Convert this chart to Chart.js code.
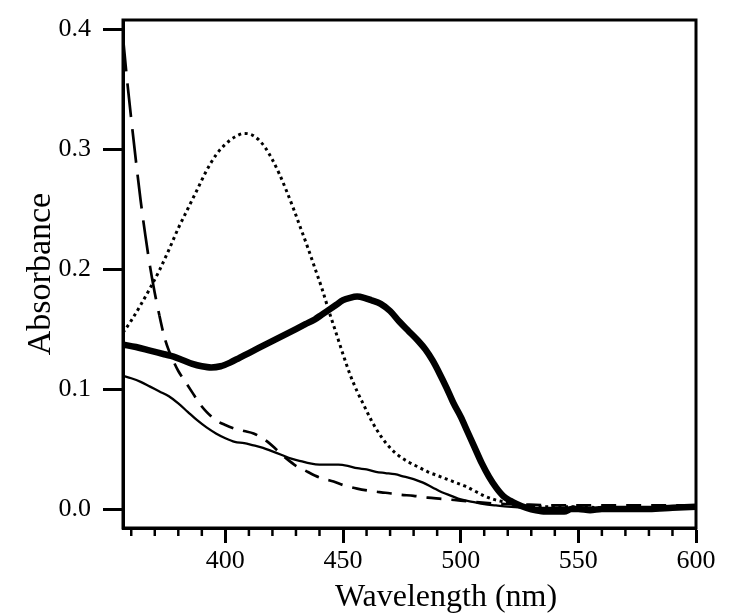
<!DOCTYPE html>
<html><head><meta charset="utf-8">
<script src="https://cdn.jsdelivr.net/npm/chart.js@4.4.1/dist/chart.umd.min.js"></script>
<style>html,body{margin:0;padding:0;background:#fff}#wrap{width:750px;height:616px}</style>
</head><body><div id="wrap"><canvas id="c" width="750" height="616"></canvas></div>
<script>
// ---- data ----
const thickX = [356.5,362,368,374,378,382,386,390,394,398,402,406,410,414,418,422,426,430,434,438,441,444,447,450,453,456,459,462,466,470,474,478,482,485,488,491,494,497,500,503,506,509,512,515,518,521,524,528,532,536,540,544,547,550,555,560,570,580,590,600];
const thickY = [0.137,0.135,0.132,0.129,0.127,0.124,0.121,0.119,0.118,0.119,0.122,0.126,0.130,0.134,0.138,0.142,0.146,0.150,0.154,0.158,0.162,0.166,0.170,0.174,0.176,0.177,0.176,0.174,0.171,0.165,0.156,0.148,0.140,0.133,0.124,0.113,0.101,0.088,0.077,0.064,0.051,0.038,0.027,0.018,0.011,0.007,0.004,0.001,-0.001,-0.002,-0.002,-0.002,0.000,0.000,-0.001,0.000,0.000,0.000,0.001,0.002];

const dotX = [356.5,360,364,368,372,376,380,384,388,392,396,400,404,408,411,414,417,420,423,426,429,432,435,438,441,444,447,450,453,456,459,462,466,470,474,478,482,486,490,494,498,502,506,510,514,518,522,526,530,540,550,560,580,600];
const dotY = [0.147,0.157,0.170,0.184,0.199,0.216,0.234,0.250,0.266,0.282,0.295,0.304,0.310,0.313,0.312,0.308,0.301,0.291,0.279,0.265,0.250,0.234,0.218,0.201,0.184,0.165,0.147,0.129,0.112,0.098,0.086,0.074,0.061,0.051,0.044,0.039,0.035,0.031,0.028,0.025,0.022,0.019,0.015,0.011,0.008,0.006,0.004,0.003,0.002,0.002,0.002,0.001,0.001,0.001];

const thinX = [356.5,360,364,368,372,376,380,384,388,392,396,400,404,408,412,416,420,424,428,432,436,440,444,448,452,456,460,464,468,472,476,480,484,488,492,496,500,505,510,515,520,530,540,560,580,600];
const thinY = [0.111,0.109,0.106,0.102,0.098,0.094,0.088,0.081,0.074,0.068,0.063,0.059,0.056,0.055,0.053,0.051,0.048,0.045,0.042,0.040,0.038,0.037,0.037,0.037,0.036,0.034,0.033,0.031,0.030,0.029,0.027,0.025,0.022,0.018,0.014,0.011,0.008,0.006,0.004,0.003,0.002,0.001,0.001,0.001,0.001,0.001];

const dashX = [356.5,358,360,362,364,366,368,370,372,374,376,378,380,383,386,389,392,396,400,404,408,412,415,418,422,426,430,434,438,442,446,450,456,462,468,474,480,486,492,500,508,516,524,540,560,580,600];
const dashY = [0.393,0.362,0.325,0.290,0.257,0.228,0.202,0.180,0.161,0.144,0.132,0.123,0.115,0.106,0.097,0.088,0.081,0.074,0.070,0.067,0.065,0.063,0.060,0.056,0.049,0.042,0.036,0.032,0.028,0.025,0.023,0.020,0.017,0.015,0.0136,0.012,0.011,0.0095,0.0085,0.007,0.0055,0.0045,0.004,0.003,0.003,0.003,0.003];

const xMajorTicks = [400,450,500,550,600];
const xMinorTicks = [360,370,380,390,410,420,430,440,460,470,480,490,510,520,530,540,560,570,580,590];
const yTicks = [0.0,0.1,0.2,0.3,0.4];
const xTitle = 'Wavelength (nm)';
const yTitle = 'Absorbance';

const pts = (xs, ys) => xs.map((x, i) => ({x: x, y: ys[i]}));
const FONT = '"Liberation Serif", "Times New Roman", serif';

const framePlugin = {
  id: 'frame',
  afterDraw(chart) {
    const ctx = chart.ctx, ca = chart.chartArea, xs = chart.scales.x;
    ctx.save();
    ctx.strokeStyle = '#000';
    ctx.lineWidth = 3;
    ctx.strokeRect(ca.left, ca.top, ca.right - ca.left, ca.bottom - ca.top);
    ctx.lineWidth = 2.5;
    xMinorTicks.forEach(v => {
      const px = xs.getPixelForValue(v);
      ctx.beginPath();
      ctx.moveTo(px, ca.bottom);
      ctx.lineTo(px, ca.bottom + 8);
      ctx.stroke();
    });
    ctx.fillStyle = '#000';
    ctx.font = '32px ' + FONT;
    ctx.textAlign = 'center';
    ctx.textBaseline = 'middle';
    ctx.fillText(xTitle, 446, 598);
    ctx.restore();
  }
};

new Chart(document.getElementById('c'), {
  type: 'line',
  data: {
    datasets: [
      {label: 'dashed', data: pts(dashX, dashY), borderColor: '#000', borderWidth: 2.7, borderDash: [15, 10],
       segment: {borderDash: c => c.p0.parsed.x < 372 ? [34, 12] : [15, 10]}},
      {label: 'dotted', data: pts(dotX, dotY), borderColor: '#000', borderWidth: 3, borderDash: [3, 3.6]},
      {label: 'thin', data: pts(thinX, thinY), borderColor: '#000', borderWidth: 2.3},
      {label: 'thick', data: pts(thickX, thickY), borderColor: '#000', borderWidth: 6.5}
    ]
  },
  options: {
    responsive: false,
    animation: false,
    devicePixelRatio: 1,
    elements: {
      point: {radius: 0, hoverRadius: 0},
      line: {cubicInterpolationMode: 'monotone', fill: false, borderCapStyle: 'butt', borderJoinStyle: 'round'}
    },
    plugins: {legend: {display: false}, tooltip: {enabled: false}},
    layout: {padding: {left: 0, right: 54, top: 20, bottom: 0}},
    scales: {
      x: {
        type: 'linear', min: 356.5, max: 600,
        afterBuildTicks: s => { s.ticks = xMajorTicks.map(v => ({value: v})); },
        afterFit: s => { s.height = 88; s.paddingLeft = 0; s.paddingRight = 0; },
        ticks: {color: '#000', font: {family: FONT, size: 26}, padding: 3, maxRotation: 0, autoSkip: false,
                callback: v => String(v)},
        grid: {drawOnChartArea: false, drawTicks: true, tickLength: 15, tickWidth: 3, tickColor: '#000'},
        border: {display: true, color: '#000', width: 3},
        title: {display: false}
      },
      y: {
        type: 'linear', min: -0.0158, max: 0.4075,
        afterBuildTicks: s => { s.ticks = yTicks.map(v => ({value: v})); },
        afterFit: s => { s.width = 123; s.paddingTop = 0; s.paddingBottom = 0; },
        ticks: {color: '#000', font: {family: FONT, size: 26}, padding: 12,
                callback: v => Number(v).toFixed(1)},
        grid: {drawOnChartArea: false, drawTicks: true, tickLength: 20, tickWidth: 3, tickColor: '#000'},
        border: {display: true, color: '#000', width: 3},
        title: {display: true, text: yTitle, color: '#000', font: {family: FONT, size: 34}, padding: {top: 21, bottom: 0}}
      }
    }
  },
  plugins: [framePlugin]
});
</script></body></html>
